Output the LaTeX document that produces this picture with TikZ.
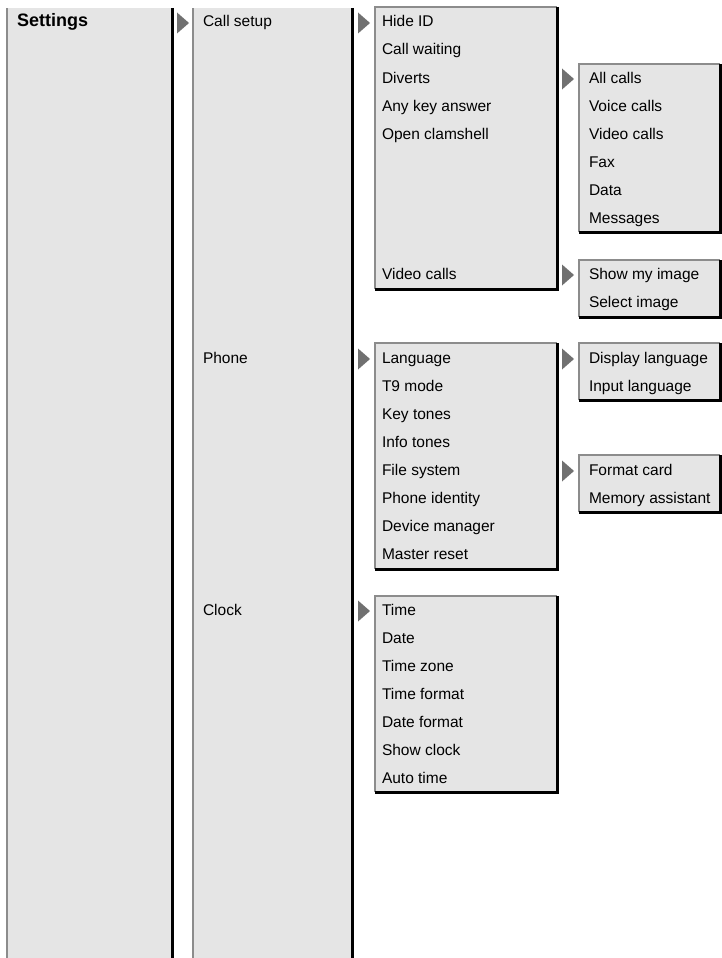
\documentclass[tikz,border=0pt]{standalone}
\usepackage{fontspec}
\setmainfont{Liberation Sans}
\definecolor{boxfill}{HTML}{E5E5E5}
\definecolor{edgegray}{HTML}{8C8C8C}
\definecolor{arrowgray}{HTML}{707070}
\tikzset{
  menubox/.style={fill=boxfill, draw=none, inner sep=0pt, outer sep=0pt, anchor=north west},
  entrytext/.style={anchor=base west, inner sep=0pt, outer sep=0pt, font=\fontsize{15.5}{18}\selectfont},
  headtext/.style={anchor=base west, inner sep=0pt, outer sep=0pt, font=\fontsize{18}{21}\selectfont\bfseries},
  lightedge/.style={draw=edgegray, line width=2pt},
  darkedge/.style={draw=black, line width=3pt},
  marker/.style={fill=arrowgray, draw=none}
}
% menu box with light top/left and dark right/bottom edges
\newcommand\menurect[5]{%
  \node[menubox, minimum width=#4-#2, minimum height=#5-#3] (#1) at (#2,#3) {};
  \draw[lightedge] (#1.south west) -- (#1.north west) -- (#1.north east);
  \draw[darkedge] (#1.north east) -- (#1.south east) -- (#1.south west);
}
% tall column: light left edge, dark right edge
\newcommand\menucolumn[5]{%
  \node[menubox, minimum width=#4-#2, minimum height=#5-#3] (#1) at (#2,#3) {};
  \draw[lightedge] (#1.south west) -- (#1.north west);
  \draw[darkedge] (#1.north east) -- (#1.south east);
}
\newcommand\menuentry[4]{\node[entrytext] (#1) at (#2,{27+28*#3}) {#4};}
\newcommand\menumark[3]{%
  \coordinate (#1) at (#2,{23+28*#3});
  \fill[marker] ([yshift=-10.5pt]#1) -- ([xshift=12pt]#1) -- ([yshift=10.5pt]#1) -- cycle;
}
\begin{document}
\begin{tikzpicture}[x=1pt,y=-1pt]
\useasboundingbox (0,0) rectangle (722,958);
% columns
\menucolumn{colA}{7}{8}{172}{962}
\menucolumn{colB}{193}{8}{352}{962}
% third level boxes
\menurect{boxCall}{375}{7}{557}{289}
\menurect{boxPhone}{375}{343}{557}{569}
\menurect{boxClock}{375}{596}{557}{792}
% fourth level boxes
\menurect{boxDiv}{579}{64}{720}{232}
\menurect{boxVid}{579}{260}{720}{317}
\menurect{boxLang}{579}{343}{720}{400}
\menurect{boxFile}{579}{455}{720}{512}
% markers
\menumark{m1}{177}{0}
\menumark{m2}{358}{0}
\menumark{m3}{358}{12}
\menumark{m4}{358}{21}
\menumark{m5}{562}{2}
\menumark{m6}{562}{9}
\menumark{m7}{562}{12}
\menumark{m8}{562}{16}
% level 1
\node[headtext] (tSettings) at (17,27) {Settings};
% level 2
\menuentry{tCallSetup}{203}{0}{Call setup}
\menuentry{tPhone}{203}{12}{Phone}
\menuentry{tClock}{203}{21}{Clock}
% level 3
\menuentry{tHide}{382}{0}{Hide ID}
\menuentry{tWait}{382}{1}{Call waiting}
\menuentry{tDiv}{382}{2}{Diverts}
\menuentry{tAny}{382}{3}{Any key answer}
\menuentry{tOpen}{382}{4}{Open clamshell}
\menuentry{tVidC}{382}{9}{Video calls}
\menuentry{tLang}{382}{12}{Language}
\menuentry{tT9}{382}{13}{T9 mode}
\menuentry{tKey}{382}{14}{Key tones}
\menuentry{tInfo}{382}{15}{Info tones}
\menuentry{tFile}{382}{16}{File system}
\menuentry{tIdent}{382}{17}{Phone identity}
\menuentry{tDev}{382}{18}{Device manager}
\menuentry{tReset}{382}{19}{Master reset}
\menuentry{tTime}{382}{21}{Time}
\menuentry{tDate}{382}{22}{Date}
\menuentry{tZone}{382}{23}{Time zone}
\menuentry{tTFmt}{382}{24}{Time format}
\menuentry{tDFmt}{382}{25}{Date format}
\menuentry{tShow}{382}{26}{Show clock}
\menuentry{tAuto}{382}{27}{Auto time}
% level 4
\menuentry{tAll}{589}{2}{All calls}
\menuentry{tVoice}{589}{3}{Voice calls}
\menuentry{tVideo}{589}{4}{Video calls}
\menuentry{tFax}{589}{5}{Fax}
\menuentry{tData}{589}{6}{Data}
\menuentry{tMsg}{589}{7}{Messages}
\menuentry{tShowImg}{589}{9}{Show my image}
\menuentry{tSelImg}{589}{10}{Select image}
\menuentry{tDisp}{589}{12}{Display language}
\menuentry{tInput}{589}{13}{Input language}
\menuentry{tFmtCard}{589}{16}{Format card}
\menuentry{tMem}{589}{17}{Memory assistant}
\end{tikzpicture}
\end{document}
